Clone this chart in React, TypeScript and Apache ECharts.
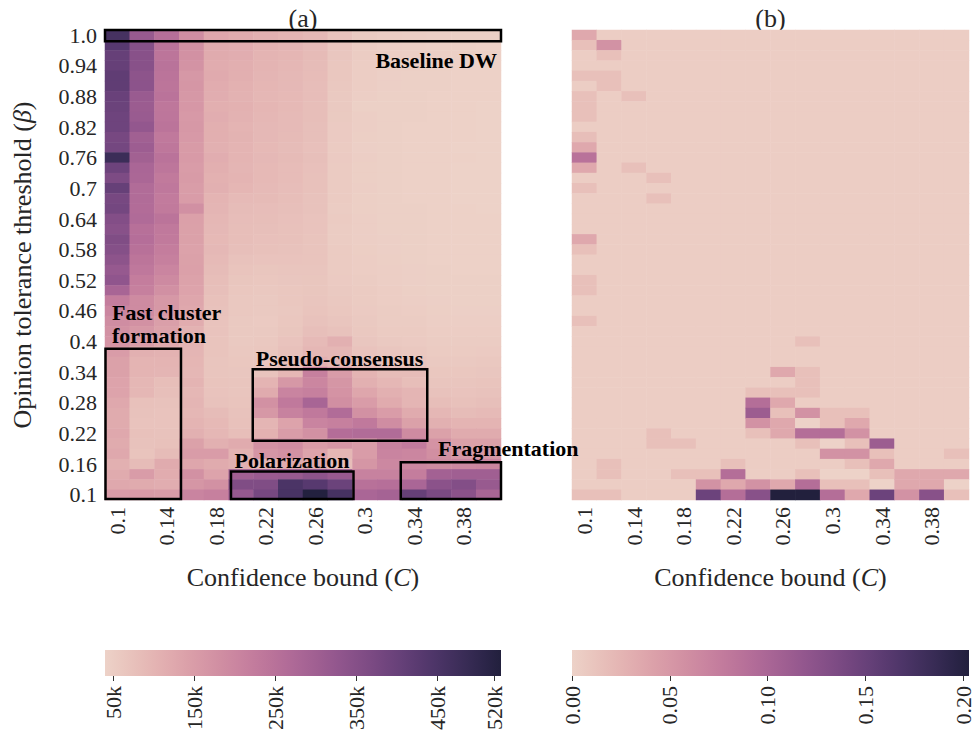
import React, { useEffect, useRef } from "react";
import * as echarts from "echarts";

// ---------- categories ----------
const xCats = ["0.1","0.12","0.14","0.16","0.18","0.2","0.22","0.24","0.26","0.28","0.3","0.32","0.34","0.36","0.38","0.4"];
// bottom -> top
const yCats = ["0.1","0.12","0.14","0.16","0.18","0.2","0.22","0.24","0.26","0.28","0.3","0.32","0.34","0.36","0.38","0.4","0.42","0.44","0.46","0.48","0.5","0.52","0.54","0.56","0.58","0.6","0.62","0.64","0.66","0.68","0.7","0.72","0.74","0.76","0.78","0.8","0.82","0.84","0.86","0.88","0.9","0.92","0.94","0.96","0.98","1.0"];

// ---------- panel (a): values in thousands, each column listed top (beta=1.0) -> bottom (beta=0.1) ----------
const c010 = [460,430,405,405,415,415,400,395,390,390,375,380,480,392,365,405,375,380,355,345,360,350,335,320,330,285,220,200,185,175,170,150,140,140,135,135,125,120,120,125,120,125,110,120,125,150];
const c012 = [315,350,345,345,335,337,313,310,313,325,298,307,297,280,277,265,265,263,267,253,258,250,240,232,220,214,190,190,175,160,148,110,100,100,95,95,75,72,70,75,72,68,85,150,120,155];
const c014 = [255,245,240,247,243,241,245,235,237,243,230,235,245,237,227,233,225,227,243,231,227,220,215,202,192,178,160,160,145,138,125,105,100,98,80,78,72,70,70,72,75,85,120,118,115,150];
const c016 = [185,178,175,172,160,165,160,162,158,160,158,152,155,150,152,148,150,178,142,140,140,138,140,142,138,135,130,125,118,105,100,98,96,95,100,95,98,95,100,110,140,150,130,175,165,205];
const c018 = [130,122,120,118,122,118,115,112,115,112,112,110,115,112,108,110,100,98,95,92,90,92,88,85,80,78,75,72,70,70,68,68,66,66,68,70,72,85,90,95,110,150,120,135,175,215];
const c020 = [120,118,115,112,112,108,105,108,105,102,104,100,102,98,100,96,88,85,82,80,80,78,72,68,65,62,60,60,58,58,58,60,62,64,66,66,68,72,75,80,120,105,110,298,360,320];
const c022 = [110,105,102,100,98,96,95,96,94,92,92,90,92,90,90,88,86,82,80,78,76,75,70,65,62,60,58,58,56,58,60,62,64,70,100,120,175,160,98,108,175,165,95,312,360,375];
const c024 = [100,98,96,95,92,92,90,90,88,88,86,85,86,84,84,82,80,78,76,75,74,72,70,66,64,62,62,60,62,65,70,74,80,95,160,205,230,210,135,150,185,175,120,315,450,455];
const c026 = [92,88,86,85,84,82,82,80,80,78,78,76,78,76,75,74,72,72,70,70,68,68,68,66,65,65,66,68,72,78,88,95,110,215,200,215,285,230,205,175,150,135,120,335,430,525];
const c028 = [70,66,64,62,62,60,58,58,57,56,56,55,56,55,55,54,54,53,54,53,52,54,55,55,56,58,60,62,66,72,110,95,95,150,165,170,180,265,215,260,165,95,80,315,395,460];
const c030 = [55,52,52,50,50,50,48,45,48,48,47,46,48,47,47,48,47,47,48,48,48,49,50,50,52,54,55,56,58,60,64,70,80,100,110,130,150,175,230,265,150,150,165,210,250,280];
const c032 = [50,48,48,47,46,46,45,45,45,44,44,44,45,44,44,44,45,45,45,45,46,46,47,48,48,50,50,52,53,55,58,64,72,85,95,110,120,150,185,265,210,205,195,210,255,290];
const c034 = [48,47,46,46,45,45,44,44,44,43,43,43,43,43,43,43,43,44,44,44,44,45,45,46,46,47,48,50,52,54,56,60,66,85,80,98,98,120,140,190,225,200,195,220,280,405];
const c036 = [46,45,45,44,44,44,43,43,43,42,42,42,42,42,42,42,42,42,42,42,43,43,43,44,44,45,46,47,48,50,52,55,58,62,66,72,80,95,110,140,170,180,190,295,340,370];
const c038 = [45,44,44,43,43,43,42,42,42,42,42,41,42,41,41,41,41,42,42,42,42,42,43,43,44,44,45,46,48,50,52,55,58,62,66,70,75,85,100,120,140,160,195,300,355,340];
const c040 = [44,43,43,42,42,42,42,41,41,41,41,41,41,41,41,41,41,41,42,42,42,42,43,43,44,44,45,46,48,50,53,56,60,64,68,72,78,88,102,120,140,160,200,300,315,285];
const columnsA = [c010,c012,c014,c016,c018,c020,c022,c024,c026,c028,c030,c032,c034,c036,c038,c040];

// ---------- panel (b): background level plus non-background cells [colIndex, rowFromTop, value] ----------
const backgroundB = 0.004;
const cellsB = [
  [0,0,0.035],[0,1,0.015],[1,1,0.055],[1,2,0.015],[0,4,0.015],[1,4,0.015],[1,5,0.015],
  [0,6,0.015],[2,6,0.015],[0,7,0.015],[0,8,0.015],[0,10,0.017],[0,11,0.035],[0,12,0.085],
  [0,13,0.035],[2,13,0.015],[3,14,0.015],[0,15,0.015],[3,16,0.015],[0,20,0.035],[0,21,0.015],
  [0,24,0.015],[0,25,0.015],[0,28,0.015],[9,30,0.015],
  [8,33,0.035],[9,33,0.015],[9,34,0.015],[7,35,0.015],[8,35,0.015],[9,35,0.015],
  [7,36,0.09],[8,36,0.035],
  [7,37,0.11],[8,37,0.015],[9,37,0.055],[10,37,0.015],[11,37,0.015],
  [7,38,0.055],[8,38,0.035],[9,38,0],[10,38,0.015],[11,38,0.035],
  [3,39,0.015],[7,39,0.015],[8,39,0.035],[9,39,0.09],[10,39,0.09],[11,39,0.055],
  [3,40,0.015],[4,40,0.015],[9,40,0.015],[10,40,0],[11,40,0.015],[12,40,0.11],
  [10,41,0.055],[11,41,0.055],[12,41,0.015],[15,41,0.015],
  [1,42,0.015],[6,42,0.015],[11,42,0.015],[12,42,0.035],
  [1,43,0.015],[4,43,0.015],[5,43,0.015],[6,43,0.09],[9,43,0.015],[10,43,0],[11,43,0],[12,43,0.015],[13,43,0.035],[14,43,0.035],[15,43,0.035],
  [5,44,0.055],[6,44,0.035],[7,44,0.055],[8,44,0.035],[9,44,0.09],[10,44,0.015],[11,44,0.015],[12,44,0],[13,44,0.035],[14,44,0.035],[15,44,0],
  [0,45,0.015],[1,45,0.015],[5,45,0.145],[6,45,0.09],[7,45,0.125],[8,45,0.2],[9,45,0.2],[10,45,0.09],[11,45,0.035],[12,45,0.145],[13,45,0.055],[14,45,0.125],[15,45,0.015],
];

// ---------- colour bars ----------
const rangeA = [40, 528];
const ticksA = [50, 150, 250, 350, 450, 520];
const rangeB = [0, 0.2];
const ticksB = [0, 0.05, 0.1, 0.15, 0.2];

// cubehelix colormap (seaborn-like)
function cubehelix(x: number, start: number, rot: number, hue: number) {
  const a = (hue * x * (1 - x)) / 2;
  const phi = 2 * Math.PI * (start / 3 + rot * x);
  const c = Math.cos(phi), s = Math.sin(phi);
  const ch = [
    x + a * (-0.14861 * c + 1.78277 * s),
    x + a * (-0.29227 * c - 0.90649 * s),
    x + a * (1.97294 * c),
  ].map((v) => Math.round(Math.max(0, Math.min(1, v)) * 255));
  return "#" + ch.map((v) => v.toString(16).padStart(2, "0")).join("");
}
const palette: string[] = [];
for (let i = 0; i <= 24; i++) {
  const light = 0.85, dark = 0.14;
  palette.push(cubehelix(light + (dark - light) * (i / 24), -0.2, 0.5, 0.85));
}

const FONT = "Liberation Serif";
const TXT = "#262626";

const GA = { left: 105, top: 30, width: 396, height: 470 };
const GB = { left: 572, top: 30, width: 397, height: 470 };
const CB_TOP = 650, CB_H = 26;

export default function App() {
  const ref = useRef<HTMLDivElement>(null);
  useEffect(() => {
    if (!ref.current) return;
    const chart = echarts.init(ref.current, undefined, { renderer: "svg" });

    const dataA: number[][] = [];
    columnsA.forEach((col, ci) => col.forEach((v, r) => dataA.push([ci, 45 - r, v])));
    const mapB = new Map<string, number>();
    cellsB.forEach(([c, r, v]) => mapB.set(c + "_" + r, v));
    const dataB: number[][] = [];
    for (let c = 0; c < 16; c++)
      for (let r = 0; r < 46; r++) {
        const k = c + "_" + r;
        dataB.push([c, 45 - r, mapB.has(k) ? (mapB.get(k) as number) : backgroundB]);
      }

    const cw = GA.width / 16, rh = GA.height / 46;
    const box = (c0: number, r0: number, c1: number, r1: number) => ({
      type: "rect",
      shape: { x: GA.left + c0 * cw, y: GA.top + r0 * rh, width: (c1 - c0) * cw, height: (r1 - r0) * rh },
      style: { fill: "none", stroke: "#000", lineWidth: 2.5 },
      z: 100,
    });
    const label = (text: string, x: number, y: number, align: string) => ({
      type: "text",
      x, y, z: 101,
      style: { text, font: `bold 22px "${FONT}"`, fill: "#000", textAlign: align, textVerticalAlign: "middle" },
    });

    const nameRich = {
      n: { fontFamily: FONT, fontSize: 26, color: TXT },
      i: { fontFamily: FONT, fontSize: 26, color: TXT, fontStyle: "italic" },
    };
    const catX = (gi: number, withName: boolean) => ({
      type: "category", gridIndex: gi, data: xCats,
      axisLine: { show: false }, axisTick: { show: false }, splitLine: { show: false },
      axisLabel: { interval: 1, rotate: 90, fontSize: 22, fontFamily: FONT, color: TXT, margin: 7 },
      name: withName ? "{n|Confidence bound (}{i|C}{n|)}" : "",
      nameLocation: "middle", nameGap: 64, nameTextStyle: { rich: nameRich },
    });
    const cbX = (gi: number, range: number[], ticks: number[], fmt: (v: number) => string) => ({
      type: "value", gridIndex: gi, min: range[0], max: range[1],
      axisLine: { show: false }, splitLine: { show: false },
      axisTick: { show: true, customValues: ticks, length: 5, lineStyle: { color: "#333", width: 1 } },
      axisLabel: { customValues: ticks, formatter: fmt, rotate: 90, fontSize: 22, fontFamily: FONT, color: TXT, margin: 10 },
    });
    const grad = (g: any) => ({
      type: "rect",
      shape: { x: g.left, y: CB_TOP, width: g.width, height: CB_H },
      style: {
        fill: {
          type: "linear", x: 0, y: 0, x2: 1, y2: 0,
          colorStops: palette.map((c, i) => ({ offset: i / (palette.length - 1), color: c })),
        },
      },
      z: 1,
    });

    chart.setOption({
      animation: false,
      backgroundColor: "#fff",
      grid: [
        { ...GA },
        { ...GB },
        { left: GA.left, top: CB_TOP, width: GA.width, height: CB_H },
        { left: GB.left, top: CB_TOP, width: GB.width, height: CB_H },
      ],
      xAxis: [
        catX(0, true),
        catX(1, true),
        cbX(2, rangeA, ticksA, (v) => `${v}k`),
        cbX(3, rangeB, ticksB, (v) => v.toFixed(2)),
      ],
      yAxis: [
        {
          type: "category", gridIndex: 0, data: yCats,
          axisLine: { show: false }, axisTick: { show: false }, splitLine: { show: false },
          axisLabel: { interval: 2, fontSize: 22, fontFamily: FONT, color: TXT, margin: 8 },
          name: "{n|Opinion tolerance threshold (}{i|β}{n|)}",
          nameLocation: "middle", nameGap: 70, nameTextStyle: { rich: nameRich },
        },
        {
          type: "category", gridIndex: 1, data: yCats,
          axisLine: { show: false }, axisTick: { show: false }, splitLine: { show: false },
          axisLabel: { show: false },
        },
        { type: "value", gridIndex: 2, show: false },
        { type: "value", gridIndex: 3, show: false },
      ],
      visualMap: [
        { type: "continuous", show: false, seriesIndex: 0, dimension: 2, min: rangeA[0], max: rangeA[1], inRange: { color: palette } },
        { type: "continuous", show: false, seriesIndex: 1, dimension: 2, min: rangeB[0], max: rangeB[1], inRange: { color: palette } },
      ],
      series: [
        { type: "heatmap", xAxisIndex: 0, yAxisIndex: 0, data: dataA, itemStyle: { borderWidth: 0 }, emphasis: { disabled: true }, progressive: 0 },
        { type: "heatmap", xAxisIndex: 1, yAxisIndex: 1, data: dataB, itemStyle: { borderWidth: 0 }, emphasis: { disabled: true }, progressive: 0 },
      ],
      graphic: [
        grad(GA), grad(GB),
        { type: "text", x: GA.left + GA.width / 2, y: 18, style: { text: "(a)", font: `26px "${FONT}"`, fill: TXT, textAlign: "center", textVerticalAlign: "middle" } },
        { type: "text", x: GB.left + GB.width / 2, y: 18, style: { text: "(b)", font: `26px "${FONT}"`, fill: TXT, textAlign: "center", textVerticalAlign: "middle" } },
        box(0, 0, 16, 1.1),
        box(0.02, 31.2, 3.07, 45.9),
        box(5.97, 33.2, 13.02, 40.2),
        box(5.09, 43.2, 10.04, 45.9),
        box(11.95, 42.3, 16, 45.9),
        label("Baseline DW", 497, 60, "right"),
        label("Fast cluster", 112, 312, "left"),
        label("formation", 112, 335, "left"),
        label("Pseudo-consensus", 339.5, 358, "center"),
        label("Polarization", 292, 460, "center"),
        label("Fragmentation", 438, 448, "left"),
      ],
    });
    return () => chart.dispose();
  }, []);
  return <div ref={ref} style={{ position: "absolute", left: 0, top: 0, width: 974, height: 736 }} />;
}
